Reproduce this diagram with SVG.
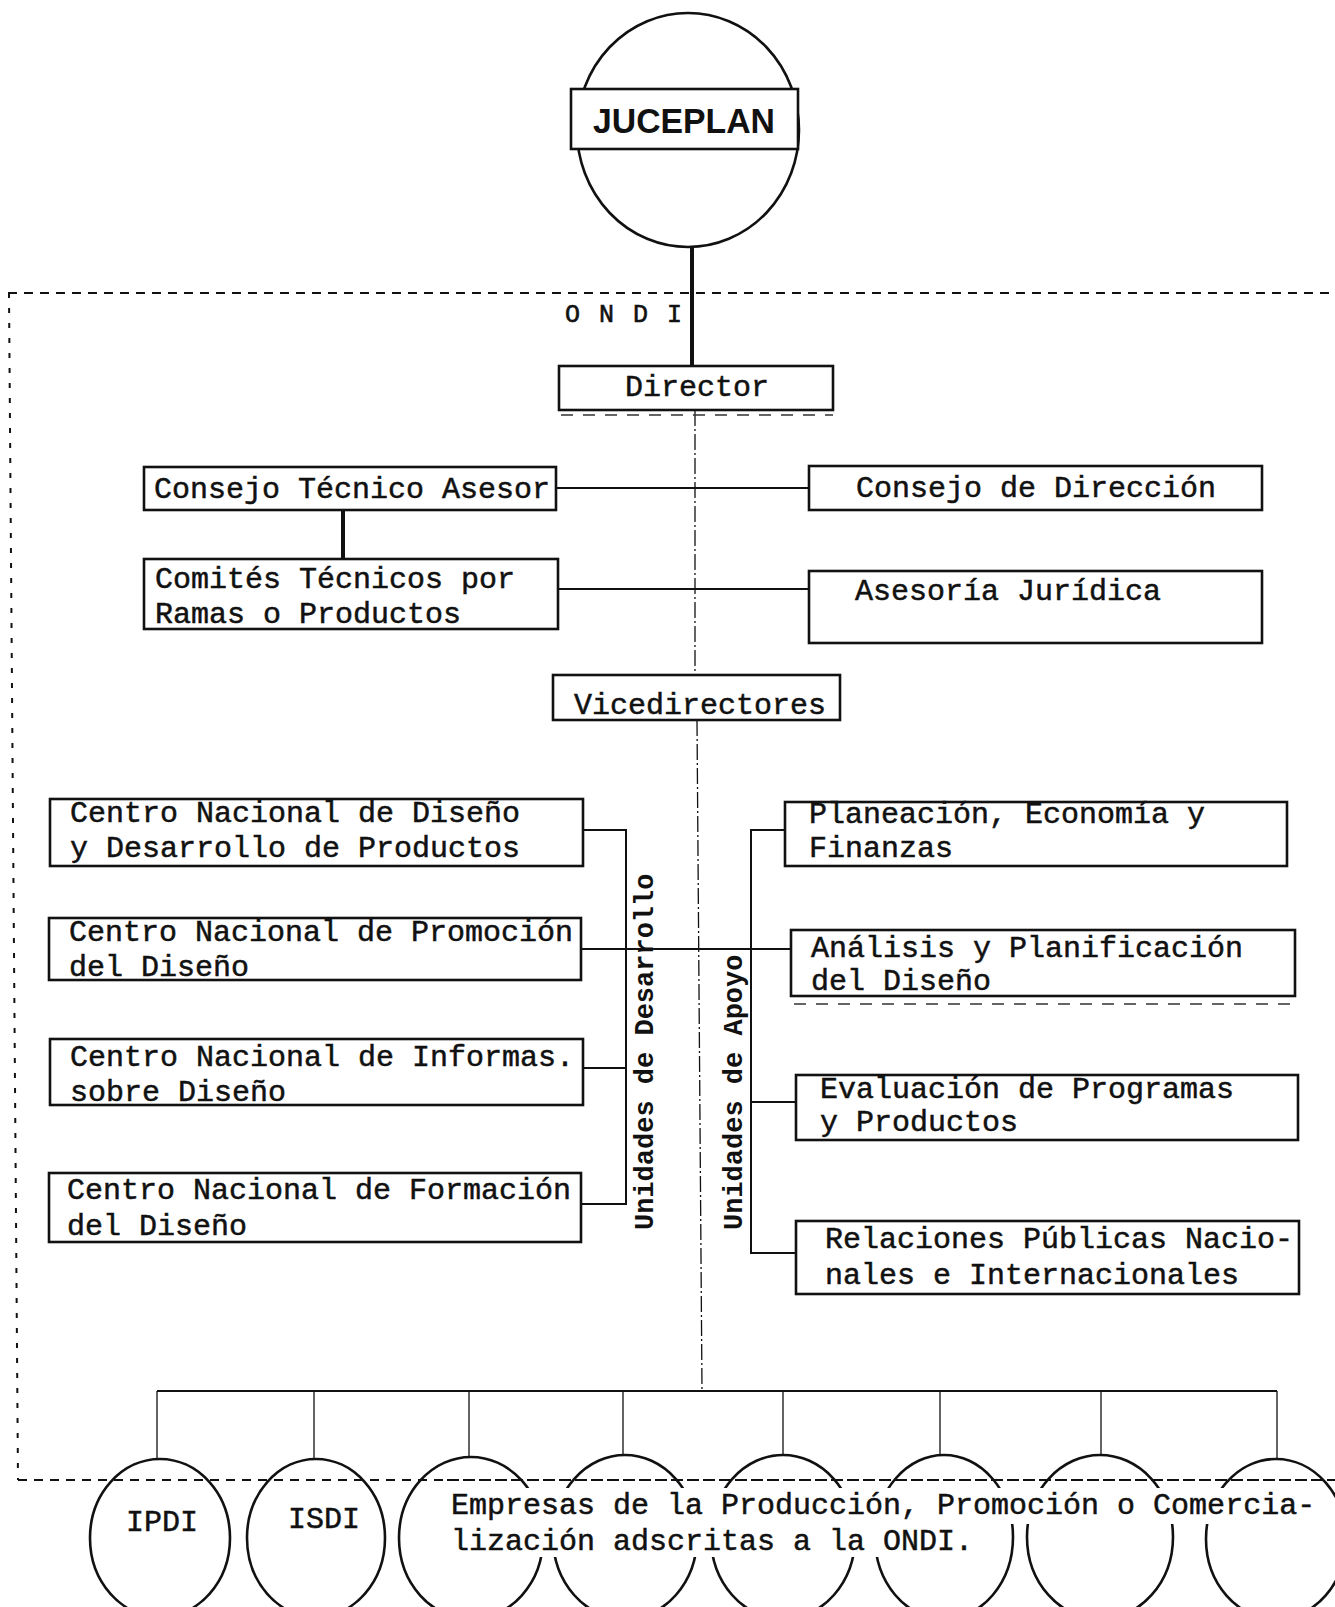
<svg xmlns="http://www.w3.org/2000/svg" width="1335" height="1607" viewBox="0 0 1335 1607">
<style>
  .box { fill: #fff; stroke: #111; stroke-width: 2.6; }
  .t { font-family: "Liberation Mono", "DejaVu Sans Mono", monospace; font-size: 30px; fill: #111; stroke: #111; stroke-width: 0.5; }
  .ondi { font-family: "Liberation Mono", "DejaVu Sans Mono", monospace; font-size: 25px; fill: #111; stroke: #111; stroke-width: 0.6; letter-spacing: 2px; }
  .tb { font-family: "Liberation Mono", "DejaVu Sans Mono", monospace; font-size: 27px; font-weight: bold; fill: #111; }
  .ln { fill: none; stroke: #111; stroke-width: 2; }
  .thick { fill: none; stroke: #111; stroke-width: 4; }
  .thin { fill: none; stroke: #111; stroke-width: 1.3; }
  .axis { fill: none; stroke: #111; stroke-width: 1.3; stroke-dasharray: 16 3 2 3; }
  .bound { fill: none; stroke: #111; stroke-width: 2; stroke-dasharray: 9 7; }
  .boundv { fill: none; stroke: #111; stroke-width: 2; stroke-dasharray: 5 10; }
  .faint { fill: none; stroke: #333; stroke-width: 1.5; stroke-dasharray: 12 10; }
  .ell { fill: none; stroke: #111; stroke-width: 2.6; }
</style>
<rect width="1335" height="1607" fill="#fff"/>

<!-- ONDI boundary -->
<g id="ondi-boundary">
  <path class="bound" d="M8 293 H1335"/>
  <path class="boundv" d="M9 293 L18 1480"/>
  <path class="bound" d="M18 1480 H1335"/>
  <text class="ondi" x="565" y="322">O N D I</text>
</g>

<!-- connectors -->
<g id="connectors">
  <path class="thick" d="M692 248 V366"/>
  <path class="axis" d="M695 410 V675"/>
  <path class="axis" d="M697 720 L702 1390"/>
  <path class="faint" d="M561 415 H833"/>
  <path class="faint" d="M794 1004 H1295"/>
  <path class="ln" d="M556 488 H809"/>
  <path class="thick" d="M343 510 V559"/>
  <path class="ln" d="M558 589 H809"/>
  <!-- Unidades de Desarrollo bracket -->
  <path class="ln" d="M583 830 H626 V1204 H581"/>
  <path class="ln" d="M583 1068 H626"/>
  <!-- through line -->
  <path class="ln" d="M581 949 H791"/>
  <!-- Unidades de Apoyo bracket -->
  <path class="ln" d="M785 830 H751 V1253 H796"/>
  <path class="ln" d="M751 1102 H796"/>
  <!-- bottom bus -->
  <path class="ln" d="M157 1391 H1277"/>
  <path class="thin" d="M157 1391 V1460 M314 1391 V1460 M469 1391 V1458 M623 1391 V1456 M783 1391 V1456 M940 1391 V1455 M1101 1391 V1455 M1277 1391 V1458"/>
</g>

<g id="juceplan">
  <ellipse class="ell" cx="688" cy="130" rx="111" ry="117"/>
  <rect class="box" x="571" y="89" width="227" height="60"/>
  <text x="684" y="133" text-anchor="middle" font-family="Liberation Sans, Arial, sans-serif" font-weight="bold" font-size="35" textLength="182" lengthAdjust="spacingAndGlyphs" fill="#111">JUCEPLAN</text>
</g>

<g id="director">
  <rect class="box" x="559" y="366" width="274" height="44"/>
  <text class="t" x="625" y="396">Director</text>
</g>

<g id="consejo-tecnico">
  <rect class="box" x="144" y="467" width="412" height="43"/>
  <text class="t" x="154" y="498">Consejo Técnico Asesor</text>
</g>

<g id="consejo-direccion">
  <rect class="box" x="809" y="466" width="453" height="44"/>
  <text class="t" x="856" y="497">Consejo de Dirección</text>
</g>

<g id="comites">
  <rect class="box" x="144" y="559" width="414" height="70"/>
  <text class="t" x="155" y="588">Comités Técnicos por</text>
  <text class="t" x="155" y="623">Ramas o Productos</text>
</g>

<g id="asesoria">
  <rect class="box" x="809" y="571" width="453" height="72"/>
  <text class="t" x="855" y="600">Asesoría Jurídica</text>
</g>

<g id="vicedirectores">
  <rect class="box" x="553" y="675" width="287" height="45"/>
  <text class="t" x="574" y="714">Vicedirectores</text>
</g>

<g id="cn-diseno-desarrollo">
  <rect class="box" x="50" y="799" width="533" height="67"/>
  <text class="t" x="70" y="822">Centro Nacional de Diseño</text>
  <text class="t" x="70" y="857">y Desarrollo de Productos</text>
</g>

<g id="cn-promocion">
  <rect class="box" x="49" y="918" width="532" height="62"/>
  <text class="t" x="69" y="941">Centro Nacional de Promoción</text>
  <text class="t" x="69" y="976">del Diseño</text>
</g>

<g id="cn-informas">
  <rect class="box" x="50" y="1039" width="533" height="66"/>
  <text class="t" x="70" y="1066">Centro Nacional de Informas.</text>
  <text class="t" x="70" y="1101">sobre Diseño</text>
</g>

<g id="cn-formacion">
  <rect class="box" x="49" y="1173" width="532" height="69"/>
  <text class="t" x="67" y="1199">Centro Nacional de Formación</text>
  <text class="t" x="67" y="1235">del Diseño</text>
</g>

<g id="unidades-desarrollo">
  <text class="tb" transform="translate(653 1230) rotate(-90)">Unidades de Desarrollo</text>
</g>

<g id="unidades-apoyo">
  <text class="tb" transform="translate(742 1230) rotate(-90)">Unidades de Apoyo</text>
</g>

<g id="planeacion">
  <rect class="box" x="785" y="802" width="502" height="64"/>
  <text class="t" x="809" y="823">Planeación, Economía y</text>
  <text class="t" x="809" y="857">Finanzas</text>
</g>

<g id="analisis">
  <rect class="box" x="791" y="930" width="504" height="66"/>
  <text class="t" x="811" y="957">Análisis y Planificación</text>
  <text class="t" x="811" y="990">del Diseño</text>
</g>

<g id="evaluacion">
  <rect class="box" x="796" y="1075" width="502" height="65"/>
  <text class="t" x="820" y="1098">Evaluación de Programas</text>
  <text class="t" x="820" y="1131">y Productos</text>
</g>

<g id="relaciones">
  <rect class="box" x="796" y="1221" width="503" height="73"/>
  <text class="t" x="825" y="1248">Relaciones Públicas Nacio-</text>
  <text class="t" x="825" y="1284">nales e Internacionales</text>
</g>

<g id="ipdi">
  <ellipse class="ell" cx="160" cy="1538" rx="70" ry="79"/>
  <text class="t" x="162" y="1531" text-anchor="middle">IPDI</text>
</g>

<g id="isdi">
  <ellipse class="ell" cx="316" cy="1538" rx="69" ry="79"/>
  <text class="t" x="324" y="1528" text-anchor="middle">ISDI</text>
</g>

<g id="empresas">
  <ellipse class="ell" cx="471" cy="1538" rx="72" ry="81"/>
  <ellipse class="ell" cx="625" cy="1537" rx="72" ry="82"/>
  <ellipse class="ell" cx="783" cy="1537" rx="72" ry="82"/>
  <ellipse class="ell" cx="944" cy="1537" rx="69" ry="82"/>
  <ellipse class="ell" cx="1100" cy="1537" rx="73" ry="82"/>
  <ellipse class="ell" cx="1276" cy="1539" rx="70" ry="80"/>
  <rect x="447" y="1488" width="870" height="36" fill="#fff"/>
  <rect x="447" y="1524" width="528" height="33" fill="#fff"/>
  <path class="bound" d="M447 1480 H1335"/>
  <text class="t" x="451" y="1514">Empresas de la Producción, Promoción o Comercia-</text>
  <text class="t" x="451" y="1550">lización adscritas a la ONDI.</text>
</g>
</svg>
